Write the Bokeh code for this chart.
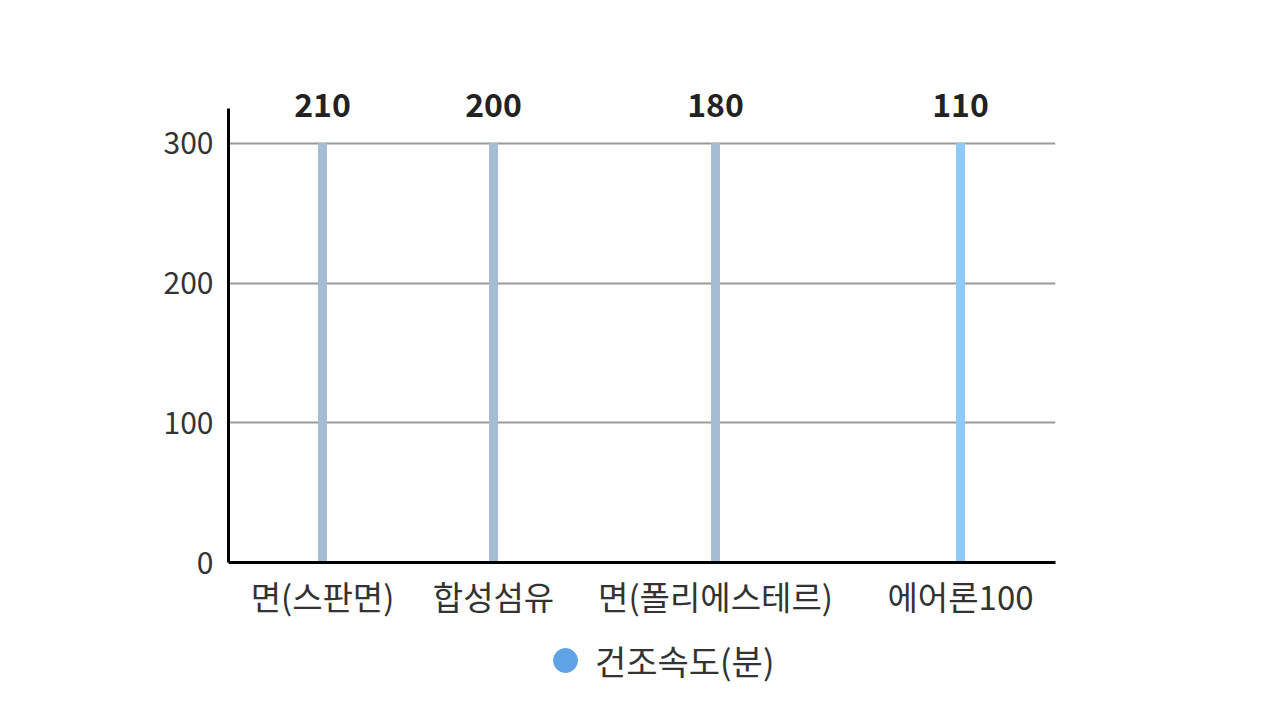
from bokeh.plotting import figure
from bokeh.layouts import column
from bokeh.models import (ColumnDataSource, FixedTicker, LabelSet, Legend, LegendItem, Range1d)
from bokeh.core.properties import value
from bokeh.embed import file_html
from bokeh.resources import INLINE

# ---- data ----
categories = ["면(스판면)", "합성섬유", "면(폴리에스테르)", "에어론100"]
dry_minutes = [210, 200, 180, 110]
bar_colors = ["#a4bdd2", "#a4bdd2", "#a4bdd2", "#8ec9fa"]
series_name = "건조속도(분)"
series_color = "#5fa3e6"
y_ticks = [0, 100, 200, 300]
# category centres along the x axis (uneven spacing as in the original)
x_centres = [94, 265, 487, 732]

FONT = "Noto Sans CJK KR"
y_top = y_ticks[-1]

src = ColumnDataSource(dict(
    x=x_centres,
    top=[y_top] * len(categories),
    lab=[str(v) for v in dry_minutes],
    color=bar_colors,
))

p = figure(width=1280, height=630, output_backend="svg", toolbar_location=None,
           x_range=Range1d(0, 827), y_range=Range1d(0, 355),
           min_border_left=228, min_border_right=225, min_border_top=66,
           min_border_bottom=68)
p.outline_line_color = None
p.background_fill_color = "white"
p.border_fill_color = "white"

# grid
p.xgrid.grid_line_color = None
p.ygrid.grid_line_color = "#9a9a9a"
p.ygrid.grid_line_width = 2
p.ygrid.ticker = FixedTicker(ticks=y_ticks)

# axes
p.yaxis.ticker = FixedTicker(ticks=y_ticks)
p.yaxis.bounds = (0, 325)
p.yaxis.axis_line_width = 3
p.yaxis.axis_line_color = "black"
p.yaxis.major_tick_line_color = None
p.yaxis.minor_tick_line_color = None
p.yaxis.major_label_standoff = 9
p.yaxis.major_label_text_font = FONT
p.yaxis.major_label_text_font_size = "30px"
p.yaxis.major_label_text_color = "#333333"

p.xaxis.ticker = FixedTicker(ticks=x_centres)
p.xaxis.major_label_overrides = {x: c for x, c in zip(x_centres, categories)}
p.xaxis.axis_line_width = 3
p.xaxis.axis_line_color = "black"
p.xaxis.major_tick_line_color = None
p.xaxis.minor_tick_line_color = None
p.xaxis.major_label_standoff = 3
p.xaxis.major_label_text_font = FONT
p.xaxis.major_label_text_font_size = "33px"
p.xaxis.major_label_text_color = "#333333"

# bars (thin)
p.vbar(x="x", top="top", bottom=0, width=8, color="color", source=src)

# value labels above the chart
labels = LabelSet(x="x", y="top", text="lab", source=src, text_align="center",
                  text_baseline="bottom", y_offset=26, text_font=value(FONT),
                  text_font_size="32px", text_font_style="bold", text_color="#222222")
p.add_layout(labels)

# legend strip below the chart (its dummy point lies outside the visible range)
lg = figure(width=1280, height=90, output_backend="svg", toolbar_location=None,
            x_range=Range1d(0, 1), y_range=Range1d(0, 1),
            min_border_left=0, min_border_right=0, min_border_top=0,
            min_border_bottom=0)
lg.axis.visible = False
lg.grid.visible = False
lg.outline_line_color = None
dot = lg.scatter(x=[-5], y=[-5], marker="circle", size=24, fill_color=series_color,
                 line_color=series_color)
legend = Legend(items=[LegendItem(label=series_name, renderers=[dot])],
                location=(307, 30), orientation="horizontal",
                glyph_width=60, glyph_height=60, label_standoff=0,
                padding=0, margin=0, border_line_color=None,
                background_fill_alpha=0,
                label_text_font=FONT, label_text_font_size="34px",
                label_text_color="#333333")
lg.add_layout(legend, "center")

layout = column(p, lg, spacing=0)
open("out.html", "w").write(file_html(layout, INLINE))
